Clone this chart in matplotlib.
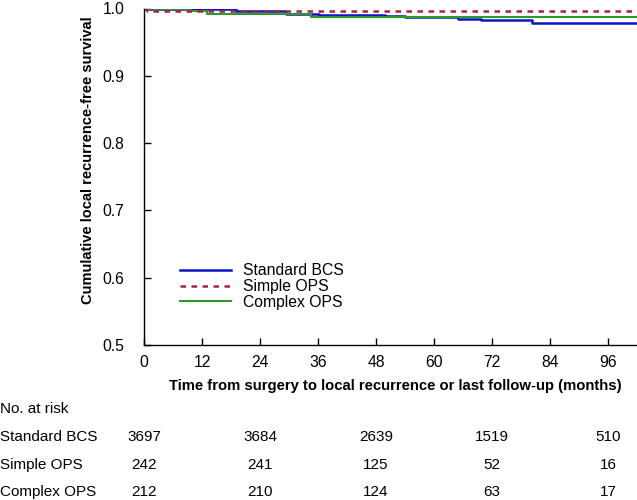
import matplotlib
matplotlib.use("Agg")
import matplotlib.pyplot as plt
from matplotlib.lines import Line2D

plt.rcParams['font.family'] = ['Liberation Sans', 'DejaVu Sans']

# Kaplan-Meier step data (months, survival)
std_t = [0, 19.0, 29.4, 36.2, 49.9, 54.0, 65.0, 69.8, 80.3, 102]
std_s = [1.0, 0.9963, 0.9918, 0.9908, 0.9888, 0.9878, 0.9844, 0.9824, 0.9790, 0.9790]
simple_t = [0, 0.6, 102]
simple_s = [1.0, 0.9963, 0.9963]
complex_t = [0, 9.7, 13.0, 34.6, 102]
complex_s = [1.0, 0.9963, 0.9918, 0.9869, 0.9869]

groups = ['Standard BCS', 'Simple OPS', 'Complex OPS']
risk_times = [0, 24, 48, 72, 96]
risk_std = [3697, 3684, 2639, 1519, 510]
risk_simple = [242, 241, 125, 52, 16]
risk_complex = [212, 210, 124, 63, 17]

xticks = [0, 12, 24, 36, 48, 60, 72, 84, 96]
yticks = [0.5, 0.6, 0.7, 0.8, 0.9, 1.0]

fig = plt.figure(figsize=(6.37, 5.0), dpi=100)
ax = fig.add_axes([144/637, 1-345/500, 1-144/637, (345-8.5)/500])

c_std = '#0a14c8'
c_simple = '#b0203c'
c_complex = '#2a9a2a'

ax.step(std_t, std_s, where='post', color=c_std, lw=1.8)
ax.step(complex_t, complex_s, where='post', color=c_complex, lw=1.5)
ax.step(simple_t, simple_s, where='post', color=c_simple, lw=1.8, ls=(0, (2.2, 2.2)))

ax.set_xlim(0, 102)
ax.set_ylim(0.5, 1.0)
ax.set_xticks(xticks)
ax.set_yticks(yticks)
ax.set_yticklabels(['0.5', '0.6', '0.7', '0.8', '0.9', '1.0'])
ax.tick_params(axis='y', direction='in', labelsize=11.3, length=5, width=1, pad=14)
ax.tick_params(axis='x', direction='in', labelsize=11.3, length=5, width=1, pad=7)
for s in ['top', 'right']:
    ax.spines[s].set_visible(False)
for s in ['left', 'bottom']:
    ax.spines[s].set_linewidth(1.0)

handles = [Line2D([], [], color=c_std, lw=1.8),
           Line2D([], [], color=c_simple, lw=1.8, ls=(0, (2.2, 2.2))),
           Line2D([], [], color=c_complex, lw=1.5)]
ax.legend(handles, groups, loc='upper left', bbox_to_anchor=(0.045, 0.285),
          frameon=False, fontsize=11.3, handlelength=3.2, labelspacing=0.05,
          handletextpad=0.8)

fig.text(88/637, 1-160/500, 'Cumulative local recurrence-free survival',
         rotation=90, ha='center', va='center', fontsize=10.5, fontweight='bold')
fig.text(395/637, 1-386/500,
         'Time from surgery to local recurrence or last follow-up (months)',
         ha='center', va='center', fontsize=10.7, fontweight='bold')

fig.text(0.0, 1-409/500, 'No. at risk', ha='left', va='center', fontsize=11)
trans = matplotlib.transforms.blended_transform_factory(ax.transData, fig.transFigure)
rows = [risk_std, risk_simple, risk_complex]
row_y = [437, 465, 492]
for name, vals, yy in zip(groups, rows, row_y):
    fig.text(0.0, 1-yy/500, name, ha='left', va='center', fontsize=11)
    for t, v in zip(risk_times, vals):
        ax.text(t, 1-yy/500, str(v), transform=trans, ha='center', va='center',
                fontsize=11, clip_on=False)

fig.savefig('out.png', dpi=100)
